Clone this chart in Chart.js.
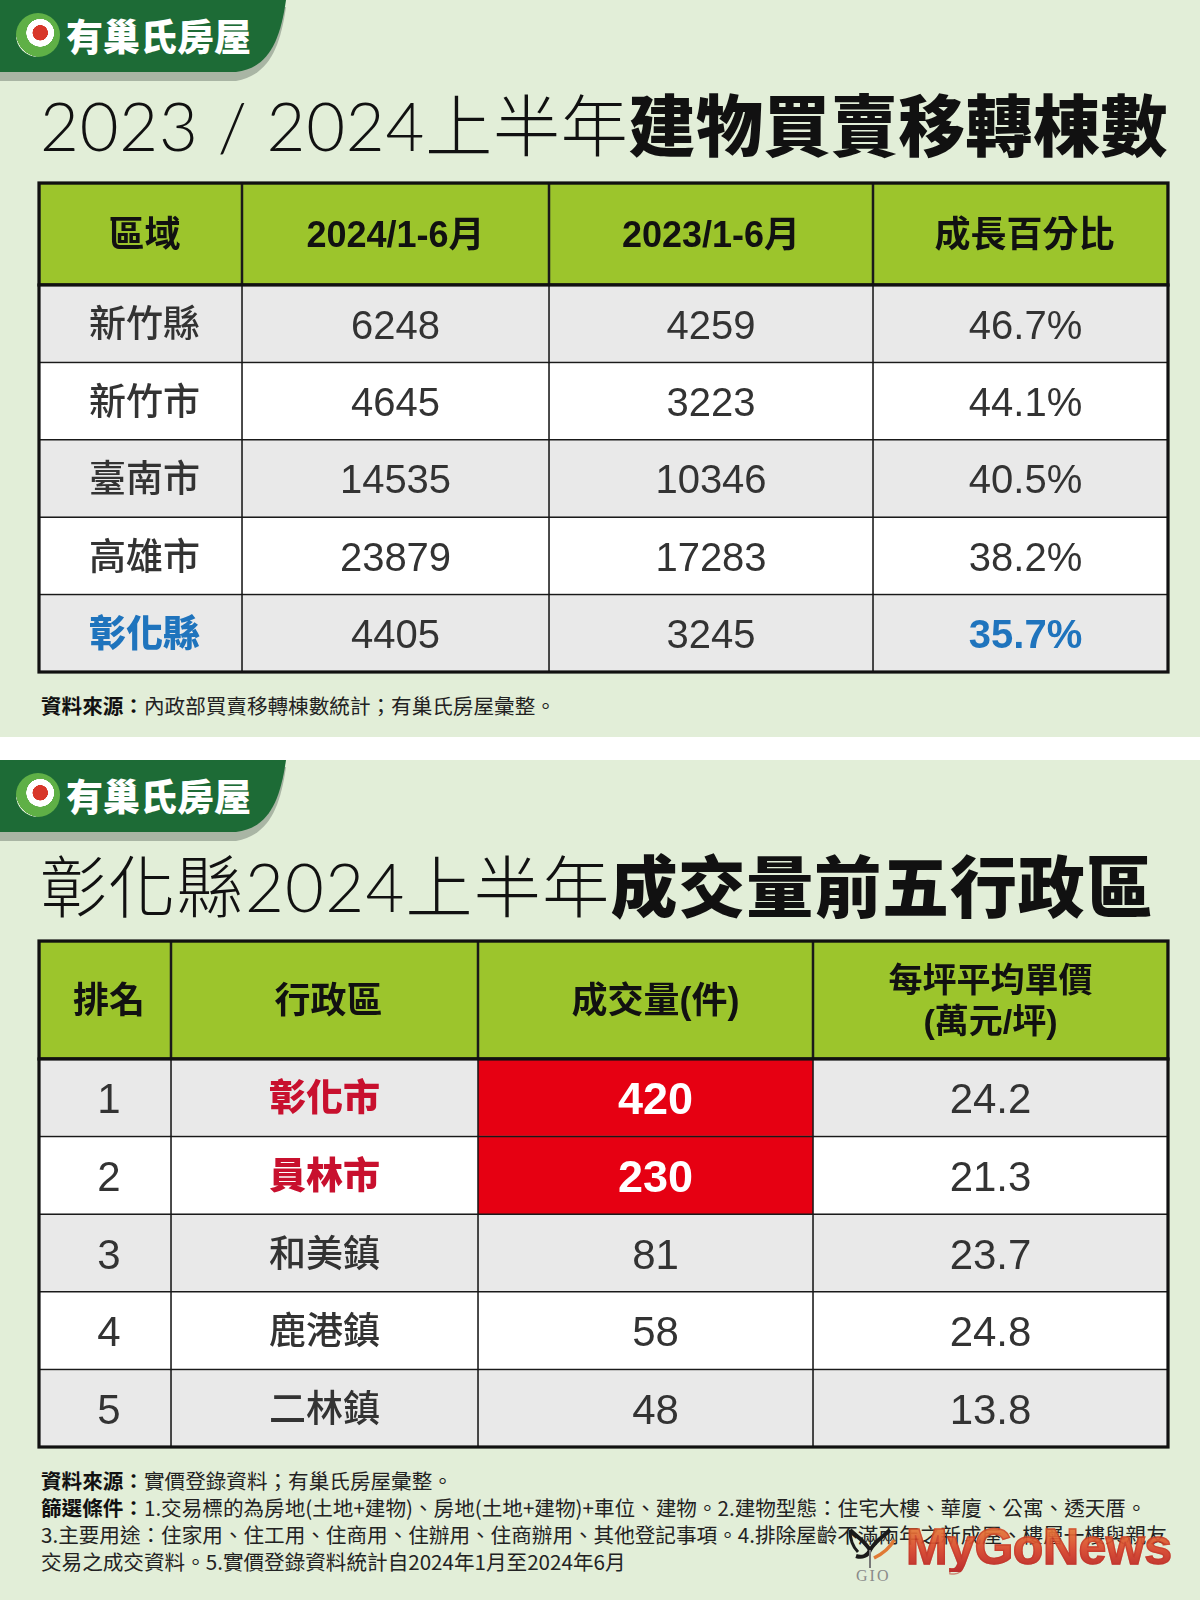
<!DOCTYPE html>
<html lang="zh-Hant">
<head>
<meta charset="utf-8">
<script src="https://cdn.jsdelivr.net/npm/chart.js@4.4.1/dist/chart.umd.min.js"></script>
<style>
  body { margin: 0; width: 1200px; height: 1600px; position: relative; overflow: hidden; background: #fff;
         font-family: "Noto Sans CJK TC", "Noto Sans", sans-serif; color: #222; }
  .panel { position: absolute; left: 0; width: 1200px; background: #e2eed8; }
  #p1 { top: 0; height: 737px; }
  #p2 { top: 760px; height: 840px; }
  .logo { position: absolute; left: 0; top: 0; width: 290px; height: 84px; }
  .logo .shadow { position: absolute; left: 0; top: 7px; width: 290px; height: 76px; background: #a9b5a4;
                  clip-path: path('M0 0 H286 C280 42 268 68 236 74 H0 Z'); }
  .logo .band { position: absolute; left: 0; top: 0; width: 290px; height: 74px; background: #1d6b36;
                clip-path: path('M0 0 H286 C280 42 268 68 236 72 H0 Z'); }
  .logo .icon { position: absolute; left: 16px; top: 13px; width: 44px; height: 44px; border-radius: 50%;
                background: radial-gradient(circle at 55% 45%, #d8372a 0 22%, #ffffff 23% 40%, #5fb046 41% 70%, #e8f2dc 71% 78%, #3f9a3c 79%); }
  .logo .name { position: absolute; left: 66px; top: 9px; font-size: 37px; line-height: 52px; font-weight: 900;
                color: #fff; }
  .title { position: absolute; left: 40px; line-height: 68px; white-space: nowrap; color: #111; }
  .title .lt { font-family: Lato, "Noto Sans CJK TC", sans-serif; font-weight: 300; font-size: 67px; letter-spacing: 0.8px; }
  .title .cj { font-family: "Noto Sans CJK TC", sans-serif; font-weight: 300; font-size: 67px; letter-spacing: 0.8px; }
  .title .bd { font-family: "Noto Sans CJK TC", sans-serif; font-weight: 900; font-size: 67px; letter-spacing: 0.4px; }
  #t2 .lt, #t2 .cj { letter-spacing: 1.3px; }
  #t2 .bd { letter-spacing: 0.9px; }
  .note { position: absolute; left: 41px; font-size: 20.6px; line-height: 27px; white-space: nowrap; color: #222; }
  .note b { font-weight: 700; color: #111; }
  canvas { position: absolute; }
  .wm { position: absolute; left: 906px; top: 1522px; font-family: "Liberation Sans", sans-serif; font-weight: 700;
        font-size: 50px; line-height: 50px; letter-spacing: -0.5px;
        background: linear-gradient(#ea8a3c, #d9452c 55%, #b81f22); -webkit-background-clip: text; color: transparent;
        -webkit-text-stroke: 1.4px rgba(190, 40, 30, 0.55); opacity: 0.93; }
  .wmicon { position: absolute; left: 846px; top: 1526px; }
</style>
</head>
<body>
<div class="panel" id="p1">
  <div class="logo"><div class="shadow"></div><div class="band"></div><div class="icon"></div><div class="name">有巢氏房屋</div></div>
  <div class="title" style="top:88px"><span class="lt">2023 / 2024</span><span class="cj">上半年</span><span class="bd">建物買賣移轉棟數</span></div>
  <div class="note" style="top:692px"><b>資料來源：</b>內政部買賣移轉棟數統計；有巢氏房屋彙整。</div>
</div>
<div class="panel" id="p2">
  <div class="logo"><div class="shadow"></div><div class="band"></div><div class="icon"></div><div class="name">有巢氏房屋</div></div>
  <div class="title" id="t2" style="top:89px"><span class="cj">彰化縣</span><span class="lt">2024</span><span class="cj">上半年</span><span class="bd">成交量前五行政區</span></div>
  <div class="note" style="top:707px"><b>資料來源：</b>實價登錄資料；有巢氏房屋彙整。<br><b>篩選條件：</b>1.交易標的為房地(土地+建物)、房地(土地+建物)+車位、建物。2.建物型態：住宅大樓、華廈、公寓、透天厝。<br>3.主要用途：住家用、住工用、住商用、住辦用、住商辦用、其他登記事項。4.排除屋齡不滿兩年之新成屋、樓層一樓與親友<br>交易之成交資料。5.實價登錄資料統計自2024年1月至2024年6月</div>
</div>
<svg class="wmicon" width="54" height="58" viewBox="0 0 54 58">
  <path d="M4 4 C10 10 18 14 24 24 C22 30 16 32 10 30" fill="none" stroke="#1a1a1a" stroke-width="4"/>
  <path d="M4 4 C4 14 8 22 12 26" fill="none" stroke="#1a1a1a" stroke-width="3"/>
  <path d="M44 4 C38 10 30 14 24 24" fill="none" stroke="#1a1a1a" stroke-width="4"/>
  <path d="M48 14 C44 22 36 28 28 32" fill="none" stroke="#e07a35" stroke-width="3.5"/>
  <path d="M24 24 L24 42" stroke="#777" stroke-width="2"/>
  <text x="10" y="55" font-family="Liberation Serif" font-size="16" fill="#8a8a8a" letter-spacing="2">GIO</text>
</svg>
<div class="wm">MyGoNews</div>

<canvas id="head1"></canvas>
<canvas id="body1"></canvas>
<canvas id="head2"></canvas>
<canvas id="body2"></canvas>

<script>
// --- 表1: 建物買賣移轉棟數 ---
const headers1 = ['區域', '2024/1-6月', '2023/1-6月', '成長百分比'];
const regions = ['新竹縣', '新竹市', '臺南市', '高雄市', '彰化縣'];
const count2024 = [6248, 4645, 14535, 23879, 4405];
const count2023 = [4259, 3223, 10346, 17283, 3245];
const growth = [46.7, 44.1, 40.5, 38.2, 35.7];

// --- 表2: 成交量前五行政區 ---
const headers2 = ['排名', '行政區', '成交量(件)', '每坪平均單價\n(萬元/坪)'];
const ranks = [1, 2, 3, 4, 5];
const districts = ['彰化市', '員林市', '和美鎮', '鹿港鎮', '二林鎮'];
const deals = [420, 230, 81, 58, 48];
const unitPrice = [24.2, 21.3, 23.7, 24.8, 13.8];

// --- レイアウト ---
const PAD = 3;
const TABLE_W = 1129;
const T1 = { left: 39, headTop: 183, headH: 102, bodyTop: 285, bodyH: 387, edges: [0, 203, 510, 834, 1129] };
const T2 = { left: 39, headTop: 941, headH: 118, bodyTop: 1059, bodyH: 388, edges: [0, 132, 439, 774, 1129] };

const GREEN = '#9cc52c', GRAY = '#e9e9e9', WHITE = '#ffffff', RED = '#e60012';
const BLUE = '#1f74bd', DARKRED = '#c8102e', INK = '#333333';
const LATIN = '"Liberation Sans", "Noto Sans CJK TC", sans-serif';
const CJK = '"Noto Sans CJK TC", sans-serif';

const f = (w, size, fam) => ({ font: `${w} ${size}px ${fam}`, size });

// セル内テキスト
const cellText = (rows, style) => ({
  id: 'cellText',
  afterDatasetsDraw(chart) {
    const ctx = chart.ctx;
    chart.data.datasets.forEach((ds, c) => {
      chart.getDatasetMeta(c).data.forEach((bar, r) => {
        const s = style(r, c);
        const lines = String(rows[r][c]).split('\n');
        const cx = (bar.x + bar.base) / 2 + (s.dx || 0);
        const y0 = bar.y - (lines.length - 1) * (s.lh || 0) / 2;
        ctx.save();
        ctx.font = s.font;
        ctx.fillStyle = s.color;
        ctx.textAlign = 'center';
        ctx.textBaseline = 'alphabetic';
        lines.forEach((t, i) => ctx.fillText(t, cx, y0 + i * (s.lh || 0) + s.size * 0.37));
        ctx.restore();
      });
    });
  }
});

// 外枠
const frame = {
  id: 'frame',
  afterDatasetsDraw(chart) {
    const { ctx, chartArea: a } = chart;
    ctx.save();
    ctx.strokeStyle = '#111';
    ctx.lineWidth = 3.2;
    ctx.strokeRect(a.left, a.top, a.right - a.left, a.bottom - a.top);
    ctx.restore();
  }
};

function buildTable(id, left, top, height, edges, rows, fill, style, line) {
  const canvas = document.getElementById(id);
  canvas.width = TABLE_W + PAD * 2;
  canvas.height = height + PAD * 2;
  canvas.style.left = (left - PAD) + 'px';
  canvas.style.top = (top - PAD) + 'px';
  const datasets = edges.slice(0, -1).map((x0, c) => ({
    data: rows.map(() => [x0, edges[c + 1]]),
    backgroundColor: rows.map((_, r) => fill(r, c)),
    borderColor: '#1a1a1a',
    borderWidth: line,
    borderSkipped: false,
    grouped: false,
    barPercentage: 1,
    categoryPercentage: 1
  }));
  return new Chart(canvas, {
    type: 'bar',
    data: { labels: rows.map((_, r) => 'r' + r), datasets },
    options: {
      indexAxis: 'y',
      responsive: false,
      animation: false,
      events: [],
      layout: { padding: PAD },
      plugins: { legend: { display: false }, tooltip: { enabled: false } },
      scales: {
        x: { type: 'linear', min: 0, max: TABLE_W, display: false },
        y: { type: 'category', display: false }
      }
    },
    plugins: [cellText(rows, style), frame]
  });
}

// 表1
const body1 = regions.map((r, i) => [r, count2024[i], count2023[i], growth[i].toFixed(1) + '%']);
buildTable('head1', T1.left, T1.headTop, T1.headH, T1.edges, [headers1],
  () => GREEN,
  (r, c) => ({ ...f('bold', 36, LATIN), color: '#111', dx: c === 0 ? 4 : (c === 3 ? 4 : 0) }), 1.6);
buildTable('body1', T1.left, T1.bodyTop, T1.bodyH, T1.edges, body1,
  (r) => r % 2 === 0 ? GRAY : WHITE,
  (r, c) => {
    const hl = regions[r] === '彰化縣' && (c === 0 || c === 3);
    if (c === 0) return { ...f(hl ? '900' : '500', 37, CJK), color: hl ? BLUE : INK, dx: 4 };
    return { ...f(hl ? 'bold' : 'normal', 40, LATIN), color: hl ? BLUE : INK, dx: c === 3 ? 5 : 0 };
  }, 1.1);

// 表2
const body2 = ranks.map((k, i) => [k, districts[i], deals[i], unitPrice[i].toFixed(1)]);
buildTable('head2', T2.left, T2.headTop, T2.headH, T2.edges, [headers2],
  () => GREEN,
  (r, c) => c === 3 ? { ...f('bold', 34, LATIN), color: '#111', lh: 41 } : { ...f('bold', 36, LATIN), color: '#111', dx: c === 2 ? 10 : 4 }, 1.6);
buildTable('body2', T2.left, T2.bodyTop, T2.bodyH, T2.edges, body2,
  (r, c) => (c === 2 && r < 2) ? RED : (r % 2 === 0 ? GRAY : WHITE),
  (r, c) => {
    const top2 = r < 2;
    if (c === 1) return { ...f(top2 ? '900' : '500', 37, CJK), color: top2 ? DARKRED : INK };
    if (c === 2 && top2) return { ...f('bold', 45, LATIN), color: '#fff', dx: 10 };
    return { ...f('normal', 42, LATIN), color: INK, dx: c === 0 ? 4 : (c === 2 ? 10 : 0) };
  }, 1.1);
</script>
</body>
</html>
